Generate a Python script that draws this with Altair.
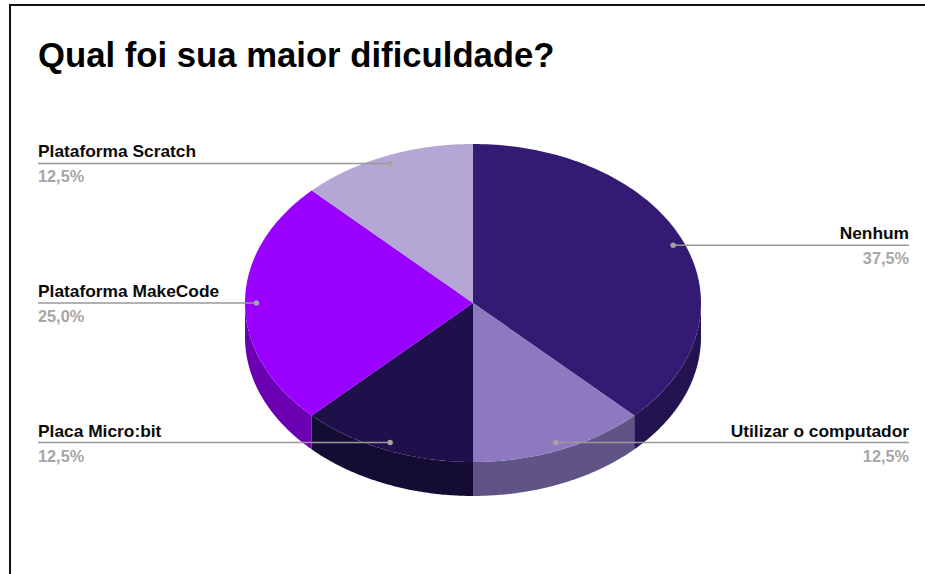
import altair as alt
import numpy as np
import pandas as pd

# Survey answers, clockwise from twelve o'clock
categories = ["Nenhum", "Utilizar o computador", "Placa Micro:bit", "Plataforma MakeCode", "Plataforma Scratch"]
shares = [37.5, 12.5, 12.5, 25.0, 12.5]
value_labels = ["37,5%", "12,5%", "12,5%", "25,0%", "12,5%"]
top_colors = ["#331a73", "#8e79c1", "#1e114b", "#9900ff", "#b4a7d6"]
wall_colors = ["#241351", "#5f5485", "#150c33", "#6b00b2", "#7e7596"]
sides = ["right", "right", "left", "left", "left"]

WIDTH, HEIGHT = 925, 574
CX, CY, RX, RY = 473, 303, 228, 159     # ellipse of the pie's top face, px
DEPTH = 34 / RY                         # wall height in y units
ANCHOR = 0.95                           # callout dots sit at this fraction of the radius
LEFT_EDGE, RIGHT_EDGE = 38, 909


def on_ellipse(theta, r=1.0):
    return r * np.sin(theta), r * np.cos(theta)


ends = np.cumsum(shares) / 100 * 2 * np.pi
starts = np.concatenate([[0.0], ends[:-1]])

top_rows, wall_rows, callout_rows = [], [], []
for cat, a, b, lab, side in zip(categories, starts, ends, value_labels, sides):
    # Top face: centre, then the arc sampled along the slice
    ring = np.linspace(a, b, 120)
    xs, ys = on_ellipse(ring)
    top_rows.append({"cat": cat, "i": 0, "x": 0.0, "y": 0.0})
    top_rows += [{"cat": cat, "i": i + 1, "x": x, "y": y} for i, (x, y) in enumerate(zip(xs, ys))]

    # Side wall: only the part of the slice on the front half of the ellipse
    lo, hi = max(a, np.pi / 2), min(b, 3 * np.pi / 2)
    if hi > lo:
        for t in np.linspace(lo, hi, 80):
            x, y = on_ellipse(t)
            wall_rows.append({"cat": cat, "x": x, "y": y, "y2": y - DEPTH})

    mid = (a + b) / 2
    x, y = on_ellipse(mid, ANCHOR)
    callout_rows.append({"cat": cat, "x": x, "y": y, "label": lab, "side": side})

tops = pd.DataFrame(top_rows)
walls = pd.DataFrame(wall_rows)
callouts = pd.DataFrame(callout_rows)

x_scale = alt.Scale(domain=[-CX / RX, (WIDTH - CX) / RX], range=[0, WIDTH], nice=False, zero=False)
y_scale = alt.Scale(domain=[(CY - HEIGHT) / RY, CY / RY], range=[HEIGHT, 0], nice=False, zero=False)
X = alt.X("x:Q", scale=x_scale, axis=None)
Y = alt.Y("y:Q", scale=y_scale, axis=None)

wall_layer = alt.Chart(walls).mark_area(interpolate="linear").encode(
    x=X, y=Y, y2="y2:Q",
    color=alt.Color("cat:N", scale=alt.Scale(domain=categories, range=wall_colors), legend=None),
)

top_layer = alt.Chart(tops).mark_line(filled=True, strokeWidth=0).encode(
    x=X, y=Y, order="i:Q",
    color=alt.Color("cat:N", scale=alt.Scale(domain=categories, range=top_colors), legend=None),
    detail="cat:N",
)

base = alt.Chart(callouts)
right = base.transform_filter("datum.side == 'right'")
left = base.transform_filter("datum.side == 'left'")

LINE_GREY = "#999999"
rule_left = left.mark_rule(color=LINE_GREY, strokeWidth=1.6).encode(x=X, y=Y, x2=alt.value(LEFT_EDGE))
rule_right = right.mark_rule(color=LINE_GREY, strokeWidth=1.6).encode(x=X, y=Y, x2=alt.value(RIGHT_EDGE))
dots = base.mark_circle(color="#a3a3a3", size=30, opacity=1).encode(x=X, y=Y)

NAME_STYLE = dict(font="Liberation Sans", fontWeight="bold", fontSize=17.35, color="#0b0b0b", dy=-6, baseline="alphabetic")
VALUE_STYLE = dict(font="Liberation Sans", fontWeight="bold", fontSize=16.3, color="#a6a6a6", dy=19, baseline="alphabetic")


def texts(chart, align, px):
    return [
        chart.mark_text(align=align, **NAME_STYLE).encode(x=alt.value(px), y=Y, text="cat:N"),
        chart.mark_text(align=align, **VALUE_STYLE).encode(x=alt.value(px), y=Y, text="label:N"),
    ]


# Frame drawn along the top and left only
frame_top = alt.Chart(pd.DataFrame({"k": [0]})).mark_rule(color="#111111", strokeWidth=2).encode(
    x=alt.value(9), x2=alt.value(WIDTH), y=alt.value(5))
frame_left = alt.Chart(pd.DataFrame({"k": [0]})).mark_rule(color="#111111", strokeWidth=2).encode(
    x=alt.value(10), y=alt.value(5), y2=alt.value(HEIGHT))

chart = alt.layer(
    frame_top, frame_left, wall_layer, top_layer, rule_left, rule_right, dots,
    *texts(left, "left", LEFT_EDGE), *texts(right, "right", RIGHT_EDGE),
).resolve_scale(color="independent").properties(
    width=WIDTH, height=HEIGHT, padding=0, background="white",
    autosize=alt.AutoSizeParams(type="none"),
    title=alt.TitleParams(
        "Qual foi sua maior dificuldade?", anchor="start", frame="group", dx=38, dy=101.5,
        font="Liberation Sans", fontWeight="bold", fontSize=34.7, color="#000000", baseline="alphabetic", offset=0,
    ),
).configure_view(stroke=None)

chart.save("out.html", embed_options={"renderer": "svg", "actions": False})
